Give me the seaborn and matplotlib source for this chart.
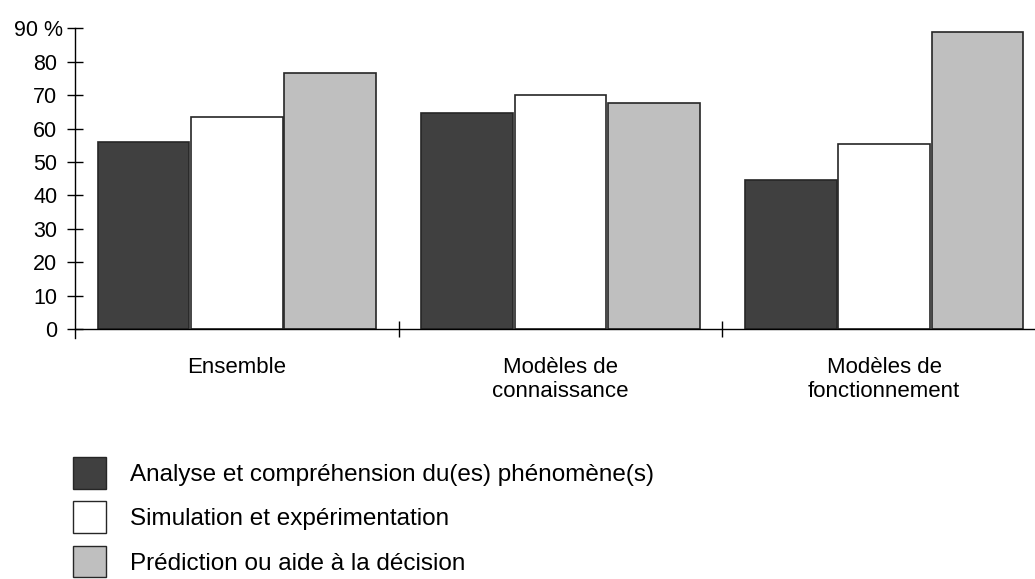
import numpy as np
import pandas as pd
import matplotlib
matplotlib.use("Agg")
import matplotlib.pyplot as plt
import matplotlib.transforms as mtransforms
from matplotlib.patches import Patch
import seaborn as sns

# données (en %)
categories = ["Ensemble", "Modèles de\nconnaissance", "Modèles de\nfonctionnement"]
usages = ["Analyse et compréhension du(es) phénomène(s)",
          "Simulation et expérimentation",
          "Prédiction ou aide à la décision"]
analyse = [56, 64.5, 44.5]
simulation = [63.5, 70, 55.5]
prediction = [76.5, 67.5, 89]
couleurs = ["#404040", "#ffffff", "#bfbfbf"]
yticks = [0, 10, 20, 30, 40, 50, 60, 70, 80, 90]
ytick_labels = ["0", "10", "20", "30", "40", "50", "60", "70", "80", "90 %"]

df = pd.DataFrame({
    "categorie": categories * 3,
    "usage": np.repeat(usages, len(categories)),
    "pct": analyse + simulation + prediction,
})

sns.set_style("white")
plt.rcParams["font.family"] = ["Liberation Sans", "DejaVu Sans"]
plt.rcParams["text.color"] = "black"

fig = plt.figure(figsize=(10.35, 5.79), dpi=100)
ax = fig.add_axes([75 / 1035, 1 - 338 / 579, 960 / 1035, 309.7 / 579])

sns.barplot(data=df, x="categorie", y="pct", hue="usage", order=categories,
            hue_order=usages, palette=couleurs, width=0.865, gap=0.02,
            edgecolor="#262626", linewidth=1.2, errorbar=None, legend=False, ax=ax)

ax.set_xlim(-0.5, 2.466)
ax.set_ylim(-2.7, 90)
ax.set_xlabel("")
ax.set_ylabel("")

# axes façon tableur : axe x sur le zéro, pas de cadre
for s in ["top", "right"]:
    ax.spines[s].set_visible(False)
ax.spines["bottom"].set_position(("data", 0))
for s in ["left", "bottom"]:
    ax.spines[s].set_color("black")
    ax.spines[s].set_linewidth(1)

ax.set_yticks(yticks, ytick_labels)
ax.tick_params(axis="y", left=True, direction="inout", length=11.5, width=1, pad=7,
               labelsize=15.5, color="black", labelcolor="black")
# le "90 %" déborde un peu à droite dans l'original
decal = mtransforms.ScaledTranslation(6 / 100, 0, fig.dpi_scale_trans)
lbl90 = ax.get_yticklabels()[-1]
lbl90.set_transform(lbl90.get_transform() + decal)

ax.set_xticks(range(len(categories)), categories)
ax.set_xticks([0.5, 1.5], minor=True)
ax.tick_params(axis="x", which="major", bottom=True, length=0, pad=20, labelsize=16,
               labelcolor="black")
ax.tick_params(axis="x", which="minor", bottom=True, direction="inout", length=11,
               width=1, color="black")
for lbl in ax.get_xticklabels():
    lbl.set_multialignment("center")

handles = [Patch(facecolor=c, edgecolor="#262626", linewidth=1) for c in couleurs]
fig.legend(handles, usages, loc="upper left", bbox_to_anchor=(73 / 1035, 1 - 457 / 579),
           frameon=False, borderpad=0, borderaxespad=0, handlelength=1.36,
           handleheight=1.62, handletextpad=1.0, labelspacing=0.53, fontsize=17.5)

fig.savefig("out.png", dpi=100)
